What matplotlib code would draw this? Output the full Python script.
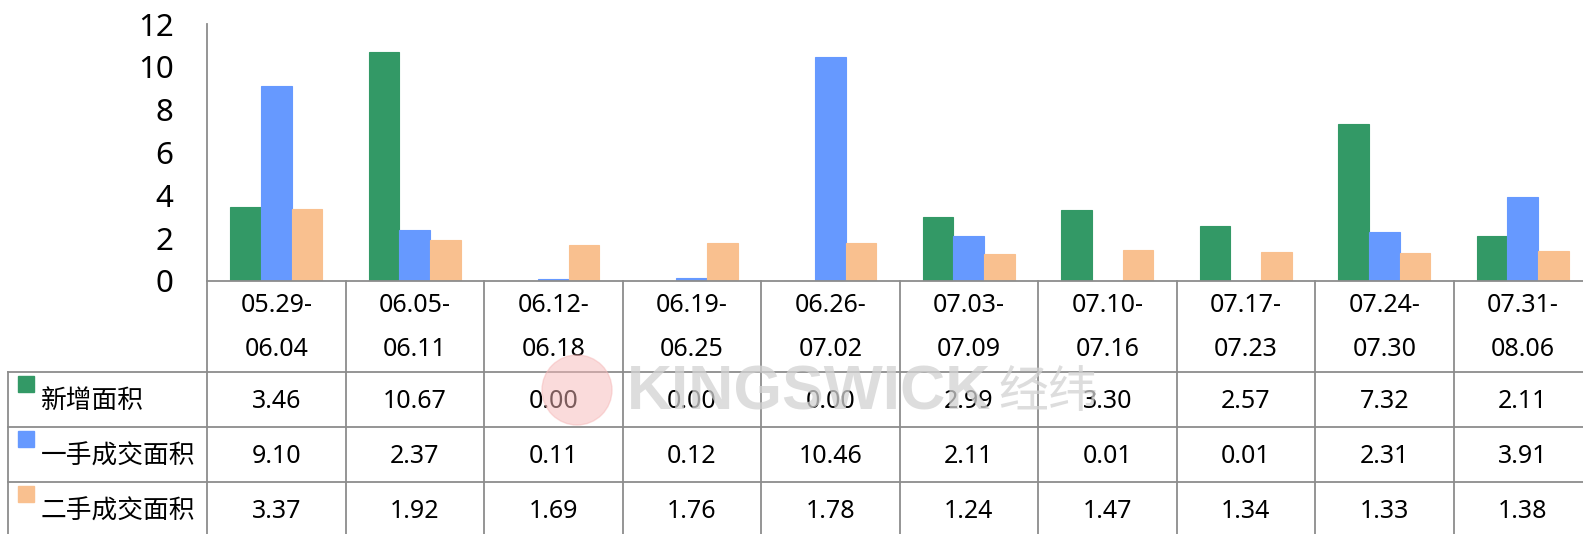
import matplotlib
matplotlib.use('Agg')
import matplotlib.pyplot as plt
from matplotlib.patches import Rectangle, Ellipse
import numpy as np

# Data
periods_start = ['05.29-', '06.05-', '06.12-', '06.19-', '06.26-', '07.03-', '07.10-', '07.17-', '07.24-', '07.31-']
periods_end = ['06.04', '06.11', '06.18', '06.25', '07.02', '07.09', '07.16', '07.23', '07.30', '08.06']
series_names = ['新增面积', '一手成交面积', '二手成交面积']
new_area = [3.46, 10.67, 0.00, 0.00, 0.00, 2.99, 3.30, 2.57, 7.32, 2.11]
first_hand = [9.10, 2.37, 0.11, 0.12, 10.46, 2.11, 0.01, 0.01, 2.31, 3.91]
second_hand = [3.37, 1.92, 1.69, 1.76, 1.78, 1.24, 1.47, 1.34, 1.33, 1.38]
colors = ['#339966', '#6699FF', '#F9C08F']
yticks = [0, 2, 4, 6, 8, 10, 12]

W, H = 1583, 534
num_font = ['Noto Sans', 'Noto Sans CJK SC']
cjk_font = ['Noto Sans CJK SC', 'DejaVu Sans']
grid_c = '#8c8c8c'

fig = plt.figure(figsize=(W / 100, H / 100), dpi=100)

# pixel layout
ax_left, ax_right = 207, 1592
ax_top, ax_zero = 24, 281
tab_left = 8
row0_h = 91
row_h = 55
n = len(new_area)
col_w = (ax_right - ax_left) / n

def fx(px):
    return px / W

def fy(py):
    return 1 - py / H

# faint watermark (behind everything)
fig.patches.append(Ellipse((fx(577), fy(390)), 70 / W, 70 / H, transform=fig.transFigure,
                           color='#f6b8b8', alpha=0.5, zorder=0))
fig.text(fx(627), fy(393), 'KINGSWICK', fontsize=45, fontweight='bold', color='#d2d2d2',
         ha='left', va='center', family='Liberation Sans', alpha=0.75, zorder=0)
fig.text(fx(998), fy(393), '经纬', fontsize=36, color='#d2d2d2',
         ha='left', va='center', family='Noto Sans CJK SC', alpha=0.75, zorder=0)

# ---- bar chart ----
ax = fig.add_axes([fx(ax_left), fy(ax_zero), fx(ax_right - ax_left), (ax_zero - ax_top) / H])
ax.patch.set_alpha(0)
x = np.arange(n)
bw = 0.222
all_series = [new_area, first_hand, second_hand]
for i, vals in enumerate(all_series):
    ax.bar(x + (i - 1) * bw, vals, width=bw, color=colors[i], edgecolor=colors[i],
           linewidth=0.8, zorder=2)
ax.set_xlim(-0.5, n - 0.5)
ax.set_ylim(0, 12)
ax.set_yticks(yticks)
ax.set_yticklabels([str(t) for t in yticks], fontsize=22.5, family=num_font)
ax.tick_params(axis='y', length=0, pad=24)
ax.set_xticks([])
for s in ['top', 'right']:
    ax.spines[s].set_visible(False)
for s in ['left', 'bottom']:
    ax.spines[s].set_color(grid_c)
    ax.spines[s].set_linewidth(1.3)
    ax.spines[s].set_zorder(3)

# ---- data table ----
hdr_w = (ax_left - tab_left) / col_w
tab_h = row0_h + row_h * 3
tab = fig.add_axes([fx(tab_left), fy(ax_zero + tab_h), fx(ax_right - tab_left), tab_h / H])
tab.patch.set_alpha(0)
tab.set_xlim(-0.5 - hdr_w, n - 0.5)
r0 = row0_h / row_h
tab.set_ylim(r0 + 3, 0)
tab.axis('off')

lk = dict(color=grid_c, lw=1.3, clip_on=False)
# category label row
for k in range(n + 1):
    tab.plot([k - 0.5, k - 0.5], [0, r0], **lk)
for i in range(n):
    tab.text(i, r0 * 0.27, periods_start[i], ha='center', va='center', fontsize=18, family=num_font)
    tab.text(i, r0 * 0.75, periods_end[i], ha='center', va='center', fontsize=18, family=num_font)

# value rows
for r in range(4):
    tab.plot([-0.5 - hdr_w, n - 0.5], [r0 + r, r0 + r], **lk)
tab.plot([-0.5 - hdr_w, -0.5 - hdr_w], [r0, r0 + 3], **lk)
for k in range(n + 1):
    tab.plot([k - 0.5, k - 0.5], [r0, r0 + 3], **lk)

sq = 16 / col_w
for r, (name, vals) in enumerate(zip(series_names, all_series)):
    yc = r0 + r + 0.5
    tab.add_patch(Rectangle((-0.5 - hdr_w + 10 / col_w, yc - 0.42), sq, 16 / row_h,
                            color=colors[r], clip_on=False))
    tab.text(-0.5 - hdr_w + 33 / col_w, yc + 0.03, name, ha='left', va='center',
             fontsize=18.5, family=cjk_font)
    for i, v in enumerate(vals):
        tab.text(i, yc + 0.03, f'{v:.2f}', ha='center', va='center', fontsize=18, family=num_font)

fig.savefig('out.png', dpi=100)
